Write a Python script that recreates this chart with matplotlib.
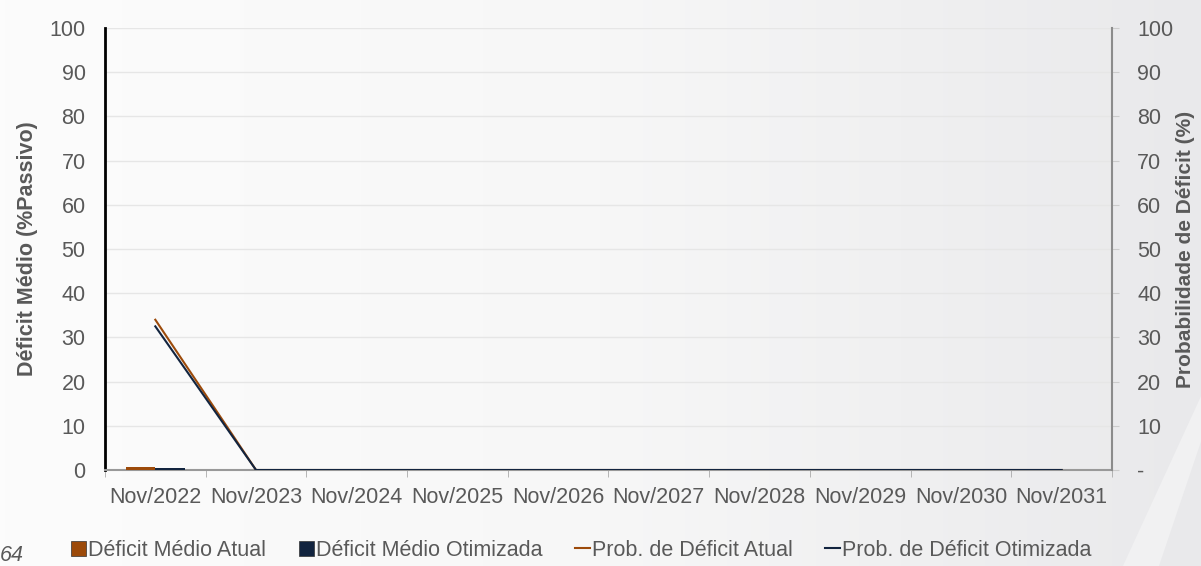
import numpy as np
import matplotlib
matplotlib.use("Agg")
import matplotlib.pyplot as plt
from matplotlib.lines import Line2D
from matplotlib.patches import Patch, Polygon

plt.rcParams['font.family'] = ['Liberation Sans', 'DejaVu Sans']

categories = ["Nov/2022", "Nov/2023", "Nov/2024", "Nov/2025", "Nov/2026",
              "Nov/2027", "Nov/2028", "Nov/2029", "Nov/2030", "Nov/2031"]
deficit_medio_atual = [0.7, 0, 0, 0, 0, 0, 0, 0, 0, 0]
deficit_medio_otim = [0.5, 0, 0, 0, 0, 0, 0, 0, 0, 0]
prob_deficit_atual = [34.0, 0, 0, 0, 0, 0, 0, 0, 0, 0]
prob_deficit_otim = [32.5, 0, 0, 0, 0, 0, 0, 0, 0, 0]
left_ticks = [0, 10, 20, 30, 40, 50, 60, 70, 80, 90, 100]
right_tick_labels = ["-", "10", "20", "30", "40", "50", "60", "70", "80", "90", "100"]

BROWN = "#9c4a0a"
NAVY = "#12243f"
GREY = "#595959"
FS = 15.5

fig = plt.figure(figsize=(12.01, 5.66), dpi=100)

# background gradient
bg = fig.add_axes([0, 0, 1, 1], zorder=-10)
grad = np.linspace(0, 1, 256)
img = np.tile(grad, (10, 1))
bg.imshow(img, aspect='auto', cmap=matplotlib.colors.LinearSegmentedColormap.from_list(
    'g', ['#fcfcfc', '#f7f7f7', '#e9e9eb']), extent=[0, 1, 0, 1])
bg.add_patch(Polygon([[0.935, 0.0], [0.965, 0.0], [1.0, 0.22], [1.0, 0.30]],
                     closed=True, facecolor='#f1f1f2', edgecolor='none'))
bg.set_xlim(0, 1)
bg.set_ylim(0, 1)
bg.axis('off')

ax = fig.add_axes([0.0874, 0.1696, 0.8385, 0.7809])
ax.patch.set_alpha(0)
x = np.arange(len(categories))
w = 0.29
ax.bar(x - w / 2, deficit_medio_atual, width=w, color=BROWN, zorder=3)
ax.bar(x + w / 2, deficit_medio_otim, width=w, color=NAVY, zorder=3)

ax.set_xlim(-0.5, len(categories) - 0.5)
ax.set_ylim(0, 100)
ax.set_yticks(left_ticks)
ax.set_xticks(x)
ax.set_xticklabels(categories)
ax.set_xticks(np.arange(-0.5, len(categories)), minor=True)
ax.tick_params(axis='x', which='major', length=0, labelsize=FS, labelcolor=GREY, pad=12)
ax.tick_params(axis='x', which='minor', length=5, color='#aaaaaa', direction='out')
ax.tick_params(axis='y', length=0, labelsize=FS, labelcolor=GREY, pad=14)
ax.grid(axis='y', color='#e6e6e6', linewidth=1, zorder=0)
ax.spines['left'].set_color('black')
ax.spines['left'].set_linewidth(2)
ax.spines['bottom'].set_color('#999999')
ax.spines['bottom'].set_linewidth(1.5)
ax.spines['top'].set_visible(False)
ax.spines['right'].set_visible(False)
ax.set_ylabel("Déficit Médio (%Passivo)", fontsize=FS, fontweight='bold', color=GREY, labelpad=8)

ax2 = ax.twinx()
ax2.plot(x, prob_deficit_atual, color=BROWN, linewidth=1.5, zorder=4)
ax2.plot(x, prob_deficit_otim, color=NAVY, linewidth=1.5, zorder=5)
ax2.set_ylim(0, 100)
ax2.set_yticks(left_ticks)
ax2.set_yticklabels(right_tick_labels)
ax2.tick_params(axis='y', length=5, color='#cccccc', labelsize=FS, labelcolor=GREY, pad=13)
ax2.spines['right'].set_color('#8c8c8c')
ax2.spines['right'].set_linewidth(1.5)
for s in ['top', 'left', 'bottom']:
    ax2.spines[s].set_visible(False)
ax2.set_ylabel("Probabilidade de Déficit (%)", fontsize=15, fontweight='bold', color=GREY, labelpad=2)

handles = [Patch(facecolor=BROWN, edgecolor='#333333', linewidth=0.5),
           Patch(facecolor=NAVY, edgecolor='#333333', linewidth=0.5),
           Line2D([0], [0], color=BROWN, linewidth=1.5),
           Line2D([0], [0], color=NAVY, linewidth=1.5)]
labels = ["Déficit Médio Atual", "Déficit Médio Otimizada",
          "Prob. de Déficit Atual", "Prob. de Déficit Otimizada"]
fig.legend(handles, labels, loc='center', bbox_to_anchor=(0.484, 0.028), ncol=4,
           frameon=False, fontsize=FS, labelcolor=GREY, handlelength=0.7,
           handleheight=0.7, handletextpad=0.1, columnspacing=1.5)

fig.text(0.0, 0.018, "64", fontsize=FS, style='italic', color=GREY, va='center', ha='left')

fig.savefig("out.png", dpi=100)
